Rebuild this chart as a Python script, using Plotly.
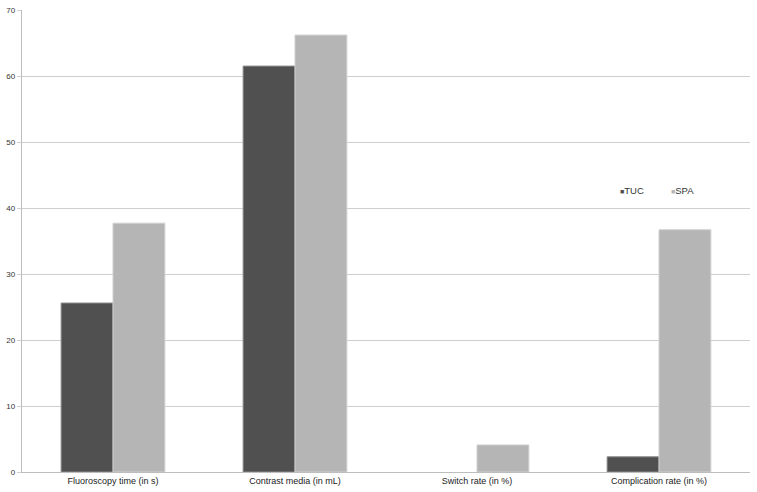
import plotly.graph_objects as go

categories = ["Fluoroscopy time (in s)", "Contrast media (in mL)", "Switch rate (in %)", "Complication rate (in %)"]
tuc = [25.6, 61.5, 0, 2.3]
spa = [37.7, 66.2, 4.1, 36.7]
y_ticks = [0, 10, 20, 30, 40, 50, 60, 70]
series_names = ["TUC", "SPA"]
series_colors = ["#505050", "#b5b5b5"]

fig = go.Figure()
fig.add_trace(go.Bar(name=series_names[0], x=categories, y=tuc,
                     marker=dict(color=series_colors[0],
                                 line=dict(color="#8a8a8a", width=[1 if v > 0 else 0 for v in tuc]))))
fig.add_trace(go.Bar(name=series_names[1], x=categories, y=spa,
                     marker=dict(color=series_colors[1],
                                 line=dict(color="#d0d0d0", width=[1 if v > 0 else 0 for v in spa]))))

# compact legend like the original (small square + label)
leg_x = [0.818, 0.889]
for name, col, lx in zip(series_names, series_colors, leg_x):
    fig.add_annotation(xref="paper", yref="paper", x=lx, y=0.61, xanchor="left", yanchor="middle",
                       showarrow=False,
                       text=f"<span style='font-size:7px;color:{col}'>■</span>{name}",
                       font=dict(size=9.5, color="#333333"))

fig.update_layout(
    width=757, height=492,
    margin=dict(l=22, r=7, t=10, b=20),
    paper_bgcolor="white", plot_bgcolor="white",
    barmode="group", bargap=0.43, bargroupgap=0,
    font=dict(family="Liberation Sans, Arial, sans-serif", size=9, color="#222222"),
    showlegend=False,
)
fig.update_yaxes(range=[0, 70], tickvals=y_ticks, showgrid=True, gridcolor="#cfcfcf", gridwidth=1.3,
                 showline=True, linecolor="#bdbdbd", linewidth=1.3, ticks="outside", ticklen=4,
                 tickcolor="#cfcfcf", tickfont=dict(size=8, color="#333333"), zeroline=False,
                 automargin=False)
fig.update_xaxes(showline=True, linecolor="#bdbdbd", linewidth=1.3, ticks="",
                 tickfont=dict(size=9, color="#222222"), automargin=False)

fig.write_html("out.html", config={"displayModeBar": False},
               post_script="document.body.style.margin='0';document.body.style.overflow='hidden';")
